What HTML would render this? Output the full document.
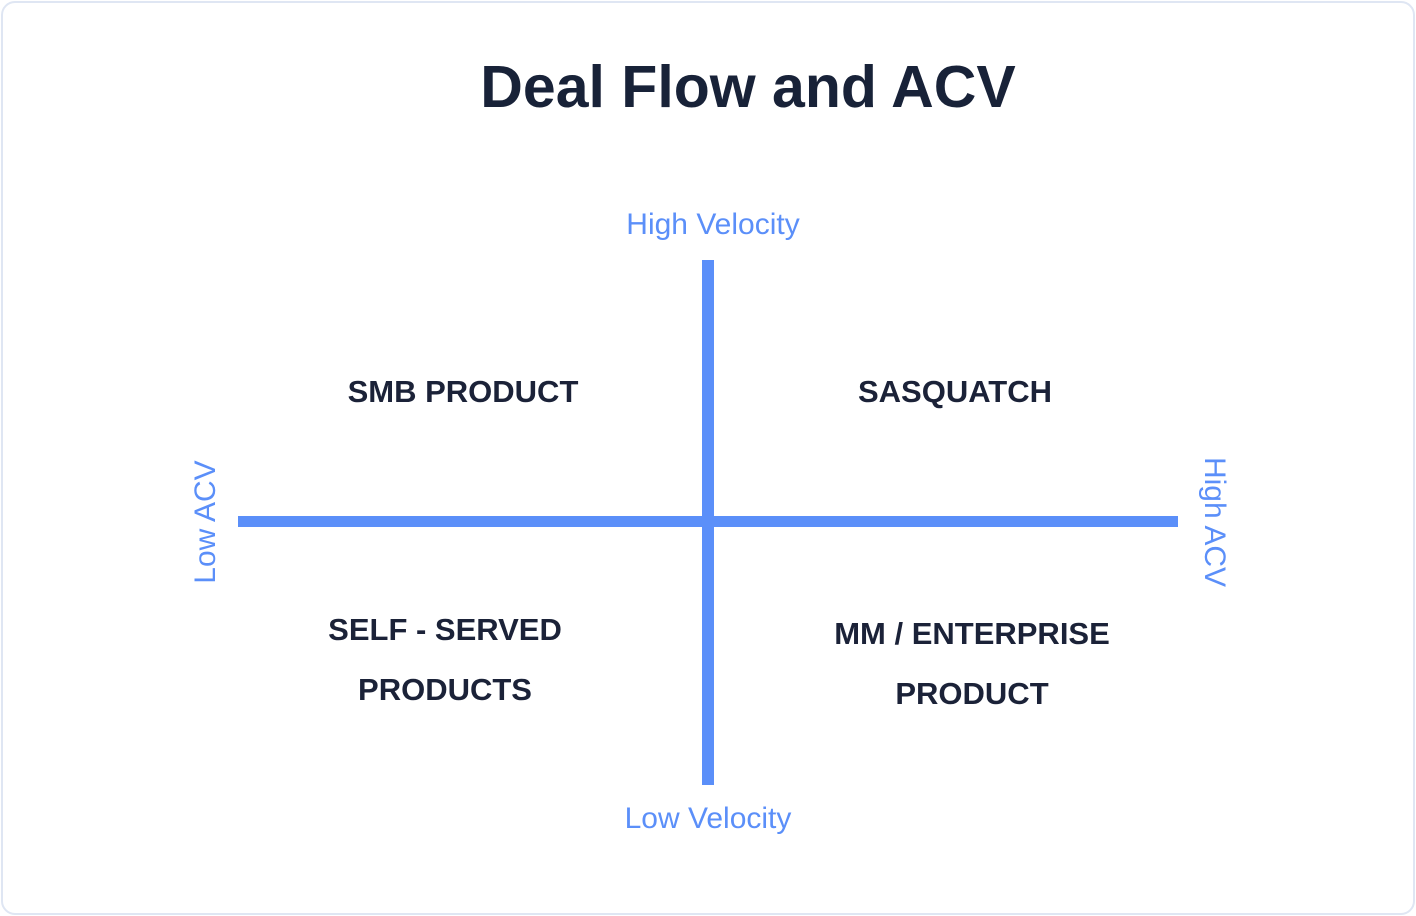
<!DOCTYPE html>
<html><head><style>
html,body{margin:0;padding:0;width:1416px;height:916px;background:#fff;overflow:hidden}
.frame{position:absolute;left:1px;top:1px;width:1410px;height:910px;border:2px solid #dfe6f3;border-radius:14px}
.t{position:absolute;font-family:"Liberation Sans",sans-serif;white-space:nowrap;transform:translateX(-50%)}
.title{font-size:59px;font-weight:bold;color:#182238;left:748px;top:53px}
.q{font-size:31px;font-weight:bold;color:#1b2238;text-align:center;line-height:60px}
.b{font-size:30px;color:#5b8ff9}
.line{position:absolute;background:#5b8ff9}
</style></head><body>
<div class="frame"></div>
<div class="t title">Deal Flow and ACV</div>
<div class="t b" style="left:713px;top:208px">High Velocity</div>
<div class="t b" style="left:708px;top:802px">Low Velocity</div>
<div class="line" style="left:238px;top:516px;width:940px;height:11px"></div>
<div class="line" style="left:702px;top:260px;width:12px;height:525px"></div>
<div class="t q" style="left:463px;top:362px">SMB PRODUCT</div>
<div class="t q" style="left:955px;top:362px">SASQUATCH</div>
<div class="t q" style="left:445px;top:600px">SELF - SERVED<br>PRODUCTS</div>
<div class="t q" style="left:972px;top:604px">MM / ENTERPRISE<br>PRODUCT</div>
<div class="t b" style="left:206px;top:522px;transform:translate(-50%,-50%) rotate(-90deg)">Low ACV</div>
<div class="t b" style="left:1214px;top:522px;transform:translate(-50%,-50%) rotate(90deg)">High ACV</div>
</body></html>
